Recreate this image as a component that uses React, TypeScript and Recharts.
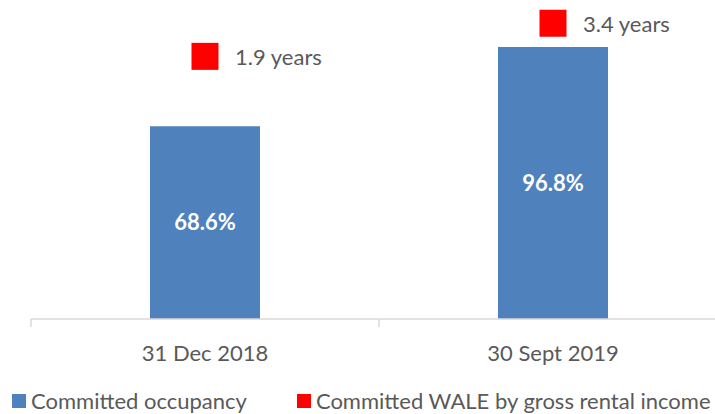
import React from 'react';
import { ComposedChart, Bar, Line, XAxis, YAxis, Legend, LabelList } from 'recharts';

const categories = ['31 Dec 2018', '30 Sept 2019'];
const occupancy = [68.6, 96.8];
const wale = [1.9, 3.4];
const seriesNames = ['Committed occupancy', 'Committed WALE by gross rental income'];
const seriesColors = ['#4F81BD', '#FF0000'];

const data = categories.map((c, i) => ({ cat: c, occ: occupancy[i], wale: wale[i] }));

const FONT = 'Lato, "Open Sans", sans-serif';
const TEXT = '#595959';
const AXIS = '#D9D9D9';

const Square = (props: any) => {
  const { cx, cy, index } = props;
  if (cx == null || cy == null) return <g key={index} />;
  return <rect key={index} x={cx - 13.5} y={cy - 13.5} width={27} height={27} fill={seriesColors[1]} />;
};

const WaleLabel = (props: any) => {
  const { x, y, value } = props;
  return (
    <text x={x + 30} y={y} dominantBaseline="central" fill={TEXT} fontSize={22} fontFamily={FONT}>
      {`${value} years`}
    </text>
  );
};

const CatTick = (props: any) => {
  const { x, y, payload, index, visibleTicksCount } = props;
  const half = payload && payload.offset ? payload.offset : 174;
  const axisY = y - 26;
  return (
    <g>
      <line x1={x - half} x2={x - half} y1={axisY} y2={axisY + 8} stroke={AXIS} strokeWidth={1.5} />
      {index === visibleTicksCount - 1 && (
        <line x1={x + half} x2={x + half} y1={axisY} y2={axisY + 8} stroke={AXIS} strokeWidth={1.5} />
      )}
      <text x={x} y={y} dy="0.71em" textAnchor="middle" fill={TEXT} fontSize={22} fontFamily={FONT}>
        {payload.value}
      </text>
    </g>
  );
};

const LegendContent = () => (
  <div style={{ display: 'flex', alignItems: 'center', fontFamily: FONT, fontSize: 22, lineHeight: '22px', color: TEXT, whiteSpace: 'nowrap' }}>
    {seriesNames.map((n, i) => (
      <div key={n} style={{ display: 'flex', alignItems: 'center', marginRight: i === 0 ? 50 : 0 }}>
        <span style={{ display: 'inline-block', width: 14, height: 14, background: seriesColors[i], marginRight: 5 }} />
        <span>{n}</span>
      </div>
    ))}
  </div>
);

export default function App() {
  return (
    <div style={{ position: 'absolute', left: 0, top: 0, width: 715, height: 414, overflow: 'hidden', background: '#fff' }}>
      <ComposedChart width={727} height={414} data={data} margin={{ top: 10, right: 0, left: 31, bottom: 0 }} barSize={110}>
        <XAxis
          dataKey="cat"
          height={95}
          axisLine={{ stroke: AXIS, strokeWidth: 1.5 }}
          tickLine={false}
          tickSize={8}
          tickMargin={18}
          interval={0}
          tick={<CatTick />}
        />
        <YAxis yAxisId="left" hide domain={[0, 110]} />
        <YAxis yAxisId="right" hide orientation="right" domain={[-10, 4]} />
        <Legend
          layout="horizontal"
          verticalAlign="middle"
          align="center"
          wrapperStyle={{ top: 390, left: 12, width: 715 }}
          content={<LegendContent />}
        />
        <Bar yAxisId="left" dataKey="occ" name={seriesNames[0]} fill={seriesColors[0]} isAnimationActive={false}>
          <LabelList
            dataKey="occ"
            position="center"
            formatter={(v: any) => `${Number(v).toFixed(1)}%`}
            fill="#FFFFFF"
            fontSize={22}
            fontWeight="bold"
            fontFamily={FONT}
          />
        </Bar>
        <Line
          yAxisId="right"
          dataKey="wale"
          name={seriesNames[1]}
          stroke="none"
          dot={<Square />}
          activeDot={false}
          isAnimationActive={false}
        >
          <LabelList dataKey="wale" content={<WaleLabel />} />
        </Line>
      </ComposedChart>
    </div>
  );
}
